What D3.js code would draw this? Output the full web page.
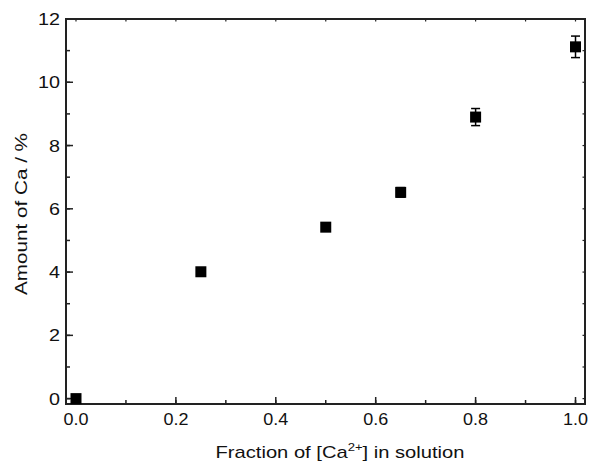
<!DOCTYPE html>
<html>
<head>
<meta charset="utf-8">
<script src="https://cdn.jsdelivr.net/npm/d3@7"></script>
<style>
  body { margin: 0; background: #fff; }
  text { font-family: "Liberation Sans", Arial, Helvetica, sans-serif; fill: #111; }
</style>
</head>
<body>
<svg id="chart"></svg>
<script>
// data
const fractions = [0.0, 0.25, 0.5, 0.65, 0.8, 1.0];
const amounts   = [0.0, 4.01, 5.42, 6.52, 8.9, 11.12];
const errors    = [0.0, 0.0, 0.0, 0.15, 0.27, 0.34];
const xTicks = [0.0, 0.2, 0.4, 0.6, 0.8, 1.0];
const yTicks = [0, 2, 4, 6, 8, 10, 12];

const width = 591, height = 462;
const margin = {top: 19, right: 6, bottom: 58, left: 66};

const svg = d3.select('#chart')
    .attr('width', width)
    .attr('height', height);

const innerW = width - margin.left - margin.right;
const innerH = height - margin.top - margin.bottom;

const chart = svg.append('g')
    .attr('transform', `translate(${margin.left},${margin.top})`);

const x = d3.scaleLinear().domain([-0.02, 1.019]).range([0, innerW]);
const y = d3.scaleLinear().domain([-0.17, 12]).range([innerH, 0]);

const minorX = d3.range(0, 1.001, 0.1);
const minorY = d3.range(0, 12.001, 1);

// bottom axis, ticks point inward
const bottom = chart.append('g').attr('transform', `translate(0,${innerH})`);
bottom.selectAll('.minor')
    .data(minorX)
  .join('line')
    .attr('x1', d => x(d)).attr('x2', d => x(d))
    .attr('y1', 0).attr('y2', -4)
    .attr('stroke', '#222').attr('stroke-width', 1.5);
bottom.selectAll('.major')
    .data(xTicks)
  .join('line')
    .attr('x1', d => x(d)).attr('x2', d => x(d))
    .attr('y1', 0).attr('y2', -7)
    .attr('stroke', '#222').attr('stroke-width', 1.5);
bottom.selectAll('text')
    .data(xTicks)
  .join('text')
    .attr('x', d => x(d))
    .attr('y', 21)
    .attr('text-anchor', 'middle')
    .attr('font-size', 17)
    .attr('textLength', 25)
    .attr('lengthAdjust', 'spacingAndGlyphs')
    .text(d => d.toFixed(1));

// left axis
const left = chart.append('g');
left.selectAll('.minor')
    .data(minorY)
  .join('line')
    .attr('y1', d => y(d)).attr('y2', d => y(d))
    .attr('x1', 0).attr('x2', 4)
    .attr('stroke', '#222').attr('stroke-width', 1.5);
left.selectAll('.major')
    .data(yTicks)
  .join('line')
    .attr('y1', d => y(d)).attr('y2', d => y(d))
    .attr('x1', 0).attr('x2', 7)
    .attr('stroke', '#222').attr('stroke-width', 1.5);
left.selectAll('text')
    .data(yTicks)
  .join('text')
    .attr('x', -6)
    .attr('y', d => y(d))
    .attr('dy', '0.36em')
    .attr('text-anchor', 'end')
    .attr('font-size', 17)
    .attr('textLength', d => String(d).length * 11)
    .attr('lengthAdjust', 'spacingAndGlyphs')
    .text(d => d);

// small ticks on top and right
chart.append('g').selectAll('line')
    .data(minorX)
  .join('line')
    .attr('x1', d => x(d)).attr('x2', d => x(d))
    .attr('y1', 0).attr('y2', 2.5)
    .attr('stroke', '#222').attr('stroke-width', 1.2);
chart.append('g').selectAll('line')
    .data(minorY)
  .join('line')
    .attr('y1', d => y(d)).attr('y2', d => y(d))
    .attr('x1', innerW).attr('x2', innerW - 2.5)
    .attr('stroke', '#222').attr('stroke-width', 1.2);

// frame
chart.append('rect')
    .attr('width', innerW).attr('height', innerH)
    .attr('fill', 'none')
    .attr('stroke', '#222').attr('stroke-width', 2);

// points with error bars
const pts = fractions.map((f, i) => ({f, a: amounts[i], e: errors[i]}));

const eb = chart.append('g').selectAll('g')
    .data(pts.filter(d => d.e > 0))
  .join('g')
    .attr('stroke', '#000').attr('stroke-width', 1.5);
eb.append('line')
    .attr('x1', d => x(d.f)).attr('x2', d => x(d.f))
    .attr('y1', d => y(d.a + d.e)).attr('y2', d => y(d.a - d.e));
eb.append('line')
    .attr('x1', d => x(d.f) - 4.5).attr('x2', d => x(d.f) + 4.5)
    .attr('y1', d => y(d.a + d.e)).attr('y2', d => y(d.a + d.e));
eb.append('line')
    .attr('x1', d => x(d.f) - 4.5).attr('x2', d => x(d.f) + 4.5)
    .attr('y1', d => y(d.a - d.e)).attr('y2', d => y(d.a - d.e));

chart.append('g').selectAll('rect')
    .data(pts)
  .join('rect')
    .attr('x', d => x(d.f) - 5.5)
    .attr('y', d => y(d.a) - 5.5)
    .attr('width', 11).attr('height', 11)
    .attr('fill', '#000');

// axis titles
const xl = svg.append('text')
    .attr('x', 340)
    .attr('y', 458)
    .attr('text-anchor', 'middle')
    .attr('font-size', 17)
    .attr('textLength', 249)
    .attr('lengthAdjust', 'spacingAndGlyphs');
xl.append('tspan').text('Fraction of [Ca');
xl.append('tspan').attr('font-size', 11).attr('dy', -7).text('2+');
xl.append('tspan').attr('dy', 7).text('] in solution');

svg.append('text')
    .attr('transform', 'translate(27,214) rotate(-90)')
    .attr('text-anchor', 'middle')
    .attr('font-size', 17)
    .attr('textLength', 162)
    .attr('lengthAdjust', 'spacingAndGlyphs')
    .text('Amount of Ca / %');
</script>
</body>
</html>
